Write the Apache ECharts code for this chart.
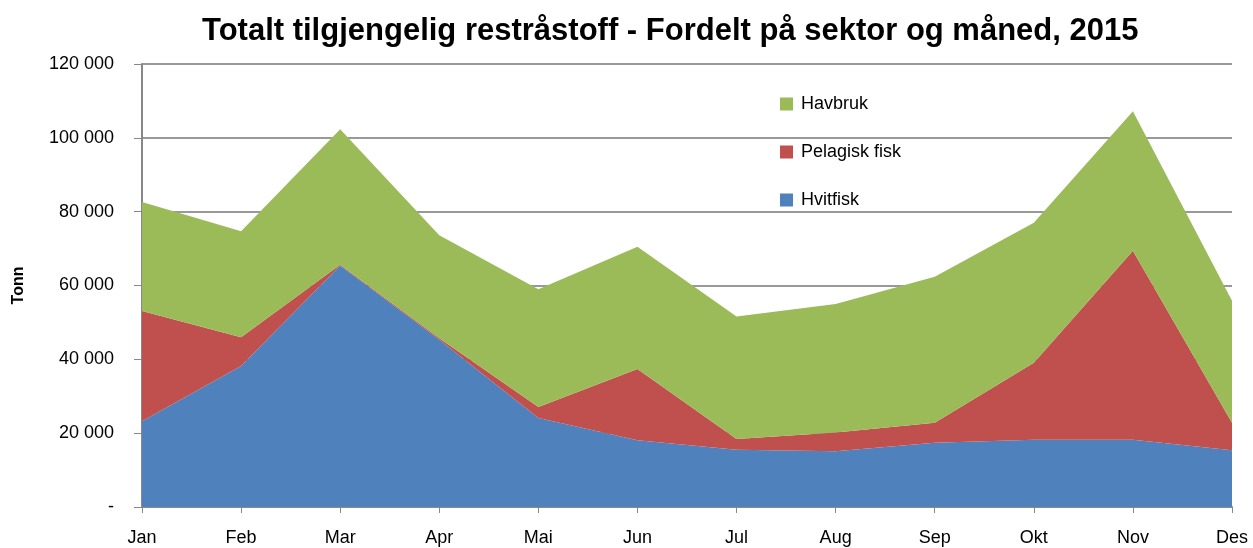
<!DOCTYPE html>
<html>
<head>
<meta charset="utf-8">
<script src="https://cdn.jsdelivr.net/npm/echarts@6/dist/echarts.min.js"></script>
<style>
  html, body { margin: 0; padding: 0; background: #fff; }
  #chart { width: 1253px; height: 548px; }
</style>
</head>
<body>
<div id="chart"></div>
<script>
const months = ['Jan', 'Feb', 'Mar', 'Apr', 'Mai', 'Jun', 'Jul', 'Aug', 'Sep', 'Okt', 'Nov', 'Des']
const hvitfisk = [23200, 38200, 65400, 45300, 24100, 18100, 15500, 15100, 17400, 18200, 18200, 15400]
const pelagisk = [29900, 7800, 200, 400, 3000, 19300, 2900, 5100, 5400, 20900, 51200, 7400]
const havbruk = [29500, 28700, 36700, 27900, 31900, 33100, 33200, 34800, 39600, 37900, 37800, 33100]

const font = 'Liberation Sans, Arial, sans-serif'

const chart = echarts.init(document.getElementById('chart'))

// mellomrom som tusenskille, 0 vises som "-"
const fmt = v => v === 0 ? '-' : String(v).replace(/\B(?=(\d{3})+(?!\d))/g, ' ')

const area = (name, data, color) => ({
    name: name,
    type: 'line',
    stack: 'total',
    data: data,
    showSymbol: false,
    lineStyle: { width: 0 },
    areaStyle: { color: color, opacity: 1 },
    itemStyle: { color: color }
})

const option = {
    animation: false,
    title: {
        text: 'Totalt tilgjengelig restråstoff - Fordelt på sektor og måned, 2015',
        left: 197,
        top: 11,
        textStyle: { fontFamily: font, fontSize: 31, fontWeight: 'bold', color: '#000' }
    },
    legend: {
        data: ['Havbruk', 'Pelagisk fisk', 'Hvitfisk'],
        orient: 'vertical',
        left: 775,
        top: 90,
        itemWidth: 13,
        itemHeight: 13,
        itemGap: 30,
        icon: 'rect',
        textStyle: { fontFamily: font, fontSize: 18, color: '#000', padding: [0, 0, 0, 3] }
    },
    grid: { left: 142, right: 21, top: 64, bottom: 41 },
    xAxis: {
        type: 'category',
        boundaryGap: false,
        data: months,
        axisLine: { lineStyle: { color: '#888', width: 2 } },
        axisTick: { show: true, alignWithLabel: true, length: 6, lineStyle: { color: '#888' } },
        axisLabel: { fontFamily: font, fontSize: 18, color: '#000', margin: 22 }
    },
    yAxis: {
        type: 'value',
        min: 0,
        max: 120000,
        interval: 20000,
        name: 'Tonn',
        nameLocation: 'middle',
        nameGap: 115,
        nameTextStyle: { fontFamily: font, fontSize: 16, fontWeight: 'bold', color: '#000' },
        axisLine: { show: true, lineStyle: { color: '#888', width: 2 } },
        axisTick: { show: true, length: 8, lineStyle: { color: '#888' } },
        splitLine: { lineStyle: { color: '#999', width: 2 } },
        axisLabel: { fontFamily: font, fontSize: 18, color: '#000', margin: 28, formatter: fmt }
    },
    series: [
        area('Hvitfisk', hvitfisk, '#4F81BD'),
        area('Pelagisk fisk', pelagisk, '#C0504D'),
        area('Havbruk', havbruk, '#9BBB59')
    ]
}

chart.setOption(option)
</script>
</body>
</html>
